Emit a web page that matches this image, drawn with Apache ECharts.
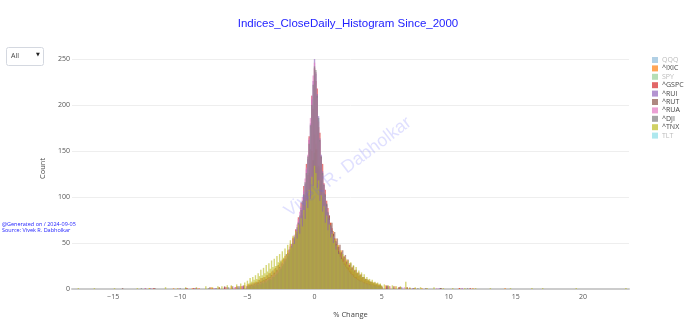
<!DOCTYPE html>
<html>
<head>
<meta charset="utf-8">
<script src="https://cdn.jsdelivr.net/npm/echarts@6/dist/echarts.min.js"></script>
<style>
html,body{margin:0;padding:0;background:#fff;}
#chart{width:690px;height:324px;}
</style>
</head>
<body>
<div id="chart"></div>
<script>
// ---- Histogram data (counts per 0.1 % bin, bins from -5.0 to +5.0) ----
const binStart = -5.0;
const binWidth = 0.1;

const seriesNames = ['QQQ', '^IXIC', 'SPY', '^GSPC', '^RUI', '^RUT', '^RUA', '^DJI', '^TNX', 'TLT'];
const seriesColors = ['#1f77b4', '#ff7f0e', '#2ca02c', '#d62728', '#9467bd', '#8c564b', '#e377c2', '#7f7f7f', '#bcbd22', '#17becf'];
const legendOnly = ['QQQ', 'SPY', 'TLT'];

const qqqCounts = [];
const spyCounts = [];
const tltCounts = [];

const ixicCounts = [5,3,6,4,7,5,8,6,10,7, 12,9,13,10,15,12,17,13,19,15, 22,18,25,20,28,23,32,26,36,30, 42,36,49,41,56,47,64,55,72,63, 82,73,94,84,108,97,126,114,150,140,
  168,
  158,152,130,132,110,112,92,96,80,82, 70,72,60,63,52,55,45,48,40,42, 34,36,30,32,26,28,22,24,19,21, 17,18,14,16,12,13,10,11,9,10, 8,8,6,7,5,6,4,5,4,3];
const gspcCounts = [3,2,4,3,4,3,6,4,7,5, 8,7,9,8,11,9,12,11,15,13, 17,15,20,18,24,21,28,25,33,30, 39,35,46,42,55,50,65,60,78,70, 94,86,112,102,136,124,166,152,210,196,
  240,
  226,218,176,170,144,136,115,108,96,88, 80,72,66,60,55,49,46,41,39,34, 33,28,27,24,23,20,19,16,16,13, 13,11,10,9,9,7,7,6,6,5, 5,4,4,3,3,3,2,2,2,2];
const ruiCounts = [2,3,2,4,3,5,4,5,6,5, 7,6,8,7,9,10,9,11,12,13, 14,16,17,19,20,23,24,27,29,32, 34,39,41,45,51,54,61,65,73,78, 88,94,106,114,130,141,162,180,206,226,
  250,
  234,212,188,164,146,128,114,102,92,83, 76,68,63,56,52,46,44,38,36,31, 30,26,25,21,20,18,17,14,15,12, 12,10,10,8,9,7,7,6,6,5, 5,4,4,3,4,3,2,3,2,2];
const rutCounts = [3,5,4,6,5,7,6,8,7,10, 8,12,10,13,11,15,13,17,15,20, 18,23,21,26,24,30,27,33,31,38, 35,43,40,49,45,55,51,62,58,70, 66,80,75,91,86,104,98,120,114,140,
  148,
  152,132,134,114,118,100,104,88,92,78, 80,68,72,60,62,52,55,46,48,40, 42,35,37,30,32,26,28,23,25,20, 21,17,18,15,16,13,13,11,11,9, 9,8,8,6,7,5,6,4,5,3];
const ruaCounts = [3,3,4,3,5,4,6,5,6,7, 7,8,9,8,10,11,12,12,14,15, 16,18,19,21,23,25,28,30,33,36, 38,42,46,49,55,59,64,70,76,84, 90,100,108,120,132,146,164,186,210,232,
  246,
  236,208,182,160,142,124,112,100,90,82, 75,68,62,57,51,47,42,38,35,32, 29,26,24,22,20,18,16,15,13,12, 11,10,9,8,8,7,6,6,5,5, 4,4,4,3,3,3,2,2,2,2];
const djiCounts = [3,2,3,2,4,3,4,5,4,6, 5,7,6,8,7,9,10,11,10,13, 13,15,16,18,21,22,25,27,30,33, 36,38,43,47,50,57,60,67,72,80, 86,96,103,116,126,144,158,178,200,222,
  242,
  238,210,186,162,144,126,113,103,93,84, 77,70,64,57,53,48,43,40,35,33, 29,27,24,23,20,18,16,15,13,12, 11,10,9,9,8,7,6,6,5,5, 4,5,3,4,3,3,2,2,3,2];
const tnxCounts = [9,6,12,8,13,10,15,11,17,14, 21,15,23,17,26,19,28,22,31,24, 33,25,36,29,38,31,41,34,44,37, 48,40,53,45,58,49,63,55,70,60, 77,68,86,76,96,88,108,98,122,112,
  134,
  126,110,118,96,102,84,90,72,80,64, 70,56,60,50,54,43,48,38,42,33, 38,30,34,27,31,24,29,21,26,19, 24,17,20,15,18,13,16,11,13,10, 11,8,10,7,8,6,7,5,6,4];

// tails beyond +-5 % (bin centre, count)
const ixicTailX = [-12.3,-10.5,-9.1,-8.6,-7.7,-7.1,-6.6,-6.2,-5.8,-5.5,-5.2, 5.3,5.6,6.0,6.4,6.9,7.5,8.0,9.4,10.8,11.8,14.2];
const ixicTailY = [1,1,1,1,2,2,2,3,3,3,4, 4,3,3,2,2,1,1,1,1,1,1];
const gspcTailX = [-12.0,-9.5,-9.0,-7.6,-6.7,-5.9,-5.4, 5.4,6.3,7.1,9.4,10.8,11.6];
const gspcTailY = [1,1,1,1,2,2,3, 3,2,1,1,1,1];
const ruiTailX = [-12.2,-9.6,-8.9,-7.4,-6.5,-5.8,-5.3, 5.4,6.5,7.3,9.3,11.0];
const ruiTailY = [1,1,1,1,2,2,3, 3,2,1,1,1];
const rutTailX = [-14.3,-12.6,-11.9,-9.6,-8.8,-7.8,-7.1,-6.7,-6.1,-5.7,-5.3, 5.4,5.9,6.3,6.9,7.4,8.3,9.4];
const rutTailY = [1,1,1,1,1,2,2,3,3,3,4, 4,3,2,2,1,1,1];
const ruaTailX = [-12.6,-10.1,-8.7,-7.5,-6.6,-5.9,-5.4, 5.6,6.7,9.1,11.0];
const ruaTailY = [1,1,1,1,2,2,3, 3,2,1,1];
const djiTailX = [-12.9,-10.0,-7.9,-7.3,-6.4,-5.6, 5.5,6.4,7.7,9.4,11.4];
const djiTailY = [1,1,1,1,2,3, 3,2,1,1,1];
const tnxTailX = [-17.6,-16.4,-14.9,-13.2,-12.3,-11.1,-10.2,-9.6,-8.8,-8.1,-7.6,-7.2,-6.9,-6.5,-6.2,-5.8,-5.5,-5.2, 5.2,5.5,5.8,6.1,6.4,6.8,7.1,7.5,7.9,8.4,8.9,9.6,10.3,11.2,12.0,13.1,14.6,16.2,17.0,19.5,23.2];
const tnxTailY = [1,1,1,1,1,2,1,2,2,3,2,3,3,4,4,5,6,7, 5,4,4,3,3,8,2,2,2,1,2,1,1,1,1,1,1,1,1,1,1];

const yTicks = [0, 50, 100, 150, 200, 250];
const xTicks = [-15, -10, -5, 0, 5, 10, 15, 20];

const titleText = 'Indices_CloseDaily_Histogram Since_2000';
const noteLines = ['@Generated on / 2024-09-05', 'Source: Vivek R. Dabholkar'];
const watermarkText = 'Vivek R. Dabholkar';

// ---- build ----
function toData(counts, tx, ty) {
  const d = counts.map((c, i) => [+(binStart + i * binWidth).toFixed(2), c]);
  (tx || []).forEach((x, i) => d.push([x, ty[i]]));
  return d;
}
const dataByName = {
  'QQQ': toData(qqqCounts),
  '^IXIC': toData(ixicCounts, ixicTailX, ixicTailY),
  'SPY': toData(spyCounts),
  '^GSPC': toData(gspcCounts, gspcTailX, gspcTailY),
  '^RUI': toData(ruiCounts, ruiTailX, ruiTailY),
  '^RUT': toData(rutCounts, rutTailX, rutTailY),
  '^RUA': toData(ruaCounts, ruaTailX, ruaTailY),
  '^DJI': toData(djiCounts, djiTailX, djiTailY),
  '^TNX': toData(tnxCounts, tnxTailX, tnxTailY),
  'TLT': toData(tltCounts)
};

const chart = echarts.init(document.getElementById('chart'), null, {renderer: 'canvas'});
const font = "'Open Sans', 'DejaVu Sans', sans-serif";

const series = seriesNames.map((n, i) => ({
  name: n,
  type: 'bar',
  data: dataByName[n],
  barWidth: 1.4,
  barGap: '-100%',
  itemStyle: {color: seriesColors[i], opacity: 0.62},
  emphasis: {disabled: true},
  animation: false
}));

const legendData = seriesNames.map((n, i) => {
  const hidden = legendOnly.indexOf(n) >= 0;
  return {
    name: n,
    itemStyle: {color: seriesColors[i], opacity: hidden ? 0.35 : 0.7},
    textStyle: {color: hidden ? '#bbbbbb' : '#444444'}
  };
});

const option = {
  backgroundColor: '#ffffff',
  animation: false,
  title: {
    text: titleText,
    left: 343, top: 13, textAlign: 'center',
    textStyle: {color: '#2222ff', fontSize: 11.5, fontWeight: 'normal', fontFamily: "'Liberation Sans', Arial, sans-serif"}
  },
  legend: {
    orient: 'vertical',
    left: 647, top: 51.5,
    icon: 'rect',
    itemWidth: 6, itemHeight: 6,
    itemGap: 1.4,
    selectedMode: false,
    textStyle: {fontSize: 7, lineHeight: 7, fontFamily: font, color: '#444', padding: [0, 0, 0, -1]},
    data: legendData
  },
  grid: {left: 72, right: 61, top: 48, bottom: 30, containLabel: false},
  xAxis: {
    type: 'value',
    min: -18.07, max: 23.43,
    splitNumber: 8,
    name: '% Change',
    nameLocation: 'middle',
    nameGap: 22,
    nameTextStyle: {fontSize: 7.5, color: '#444', fontFamily: font},
    axisLine: {show: true, lineStyle: {color: '#cccccc', width: 2}},
    axisTick: {show: false},
    splitLine: {show: false},
    axisLabel: {
      fontSize: 7, color: '#555', fontFamily: font, margin: 4,
      showMinLabel: false, showMaxLabel: false,
      formatter: function (v) {
        const r = Math.round(v);
        if (Math.abs(v - r) > 1e-6 || xTicks.indexOf(r) < 0) return '';
        return r < 0 ? '\u2212' + Math.abs(r) : String(r);
      }
    }
  },
  yAxis: {
    type: 'value',
    min: 0, max: 262, interval: 50,
    name: 'Count',
    nameLocation: 'middle',
    nameGap: 17,
    nameRotate: 90,
    nameTextStyle: {fontSize: 7.5, color: '#444', fontFamily: font},
    axisLine: {show: false},
    axisTick: {show: false},
    splitLine: {show: true, showMinLine: false, showMaxLine: false, lineStyle: {color: '#eeeeee', width: 1}},
    axisLabel: {
      fontSize: 7, color: '#555', fontFamily: font, margin: 2,
      showMaxLabel: false,
      formatter: function (v) { return yTicks.indexOf(v) >= 0 ? String(v) : ''; }
    }
  },
  graphic: [
    {type: 'rect', left: 6, top: 47, shape: {width: 37, height: 18, r: 2},
     style: {fill: '#ffffff', stroke: '#d4d8e0', lineWidth: 1}, z: 100},
    {type: 'text', left: 11, top: 52.5, style: {text: 'All', fill: '#444', font: "7px 'Open Sans', sans-serif"}, z: 101},
    {type: 'text', left: 36, top: 52, style: {text: '\u25BC', fill: '#222', font: "5px 'DejaVu Sans', sans-serif"}, z: 101},
    {type: 'text', left: 2, top: 221, style: {text: noteLines[0], fill: '#2222ff', font: "5.5px 'Open Sans', sans-serif"}, z: 101},
    {type: 'text', left: 2, top: 227.5, style: {text: noteLines[1], fill: '#2222ff', font: "5.5px 'Open Sans', sans-serif"}, z: 101},
    {type: 'text', x: 348, y: 167, rotation: 37 * Math.PI / 180,
     style: {text: watermarkText, fill: 'rgba(100,100,255,0.2)', font: "18px 'Liberation Sans', Arial, sans-serif", align: 'center', verticalAlign: 'middle'}, z: 50}
  ],
  series: series
};
chart.setOption(option);
</script>
</body>
</html>
